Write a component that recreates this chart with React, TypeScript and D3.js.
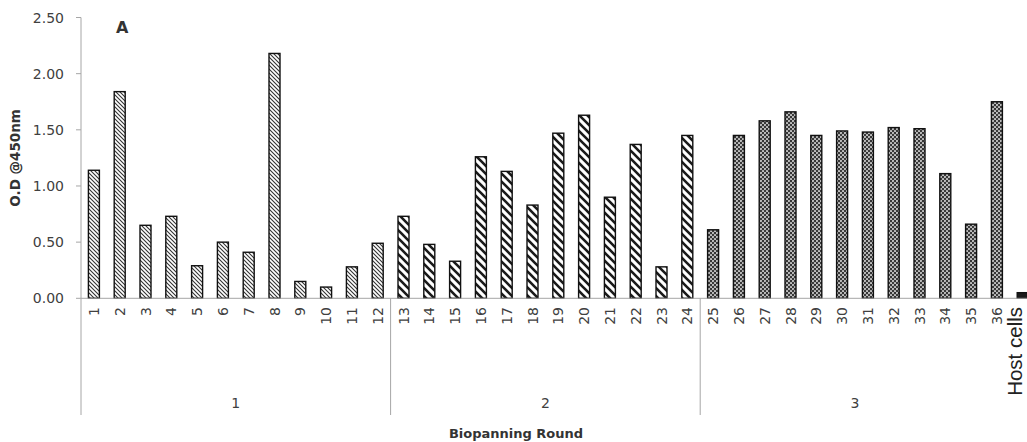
import React, { useEffect } from "react";
import * as d3 from "d3";

// Clone labels and optical density readings per biopanning round
const cloneLabels: string[] = Array.from({ length: 36 }, (_, i) => String(i + 1));
const round1Values: number[] = [1.14, 1.84, 0.65, 0.73, 0.29, 0.5, 0.41, 2.18, 0.15, 0.1, 0.28, 0.49];
const round2Values: number[] = [0.73, 0.48, 0.33, 1.26, 1.13, 0.83, 1.47, 1.63, 0.9, 1.37, 0.28, 1.45];
const round3Values: number[] = [0.61, 1.45, 1.58, 1.66, 1.45, 1.49, 1.48, 1.52, 1.51, 1.11, 0.66, 1.75];
const hostCellsLabel = "Host cells";
const hostCellsValue = 0.05;
const roundLabels: string[] = ["1", "2", "3"];
const yTicks: number[] = [0, 0.5, 1, 1.5, 2, 2.5];

const W = 1027;
const H = 442;
const left = 81;
const step = 25.8;
const top = 17.5;
const base = 298.3;

type Bar = { label: string; value: number; round: number };

const bars: Bar[] = [
  ...round1Values.map((v, i) => ({ label: cloneLabels[i], value: v, round: 0 })),
  ...round2Values.map((v, i) => ({ label: cloneLabels[12 + i], value: v, round: 1 })),
  ...round3Values.map((v, i) => ({ label: cloneLabels[24 + i], value: v, round: 2 })),
  { label: hostCellsLabel, value: hostCellsValue, round: 3 },
];

const fills = ["url(#hatchFine)", "url(#hatchWide)", "url(#dotGrid)", "#1a1a1a"];

export default function App() {
  useEffect(() => {
    document.body.style.margin = "0";
  }, []);

  const x = d3
    .scaleBand<string>()
    .domain(bars.map((b) => b.label))
    .range([left, left + bars.length * step])
    .paddingInner(0.574)
    .paddingOuter(0.287);
  const y = d3.scaleLinear().domain([0, 2.5]).range([base, top]);

  const axisColor = "#a6a6a6";
  const textColor = "#404040";
  const tickFont = "DejaVu Sans, sans-serif";

  // Round boundaries: left edge of the first clone in each round, plus the end of round 2
  const boundaries = [0, 12, 24, 36].map((i) => left + i * step);
  const lineBottom = 415;

  return (
    <svg width={W} height={H} style={{ display: "block", background: "#fff" }}>
      <defs>
        <pattern id="hatchFine" patternUnits="userSpaceOnUse" width="4" height="4">
          <rect width="4" height="4" fill="#fff" />
          <path d="M-1,-1 L5,5 M-1,3 L1,5 M3,-1 L5,1" stroke="#333" strokeWidth="1.1" />
        </pattern>
        <pattern id="hatchWide" patternUnits="userSpaceOnUse" width="8" height="8">
          <rect width="8" height="8" fill="#fff" />
          <path d="M-2,-2 L10,10 M-2,6 L2,10 M6,-2 L10,2" stroke="#1a1a1a" strokeWidth="2.6" />
        </pattern>
        <pattern id="dotGrid" patternUnits="userSpaceOnUse" width="4" height="4">
          <rect width="4" height="4" fill="#3a3a3a" />
          <circle cx="1" cy="1" r="1.05" fill="#c8c8c8" />
          <circle cx="3" cy="3" r="1.05" fill="#c8c8c8" />
          <rect x="2.6" y="0.6" width="0.8" height="0.8" fill="#1a1a1a" />
        </pattern>
      </defs>

      {/* y axis */}
      <line x1={left} x2={left} y1={top} y2={base} stroke={axisColor} strokeWidth={1} />
      {yTicks.map((t) => (
        <g key={t}>
          <line x1={left - 5} x2={left} y1={y(t)} y2={y(t)} stroke={axisColor} strokeWidth={1} />
          <text
            x={64}
            y={y(t)}
            dy="0.36em"
            textAnchor="end"
            fontFamily={tickFont}
            fontSize={14}
            fill={textColor}
          >
            {t.toFixed(2)}
          </text>
        </g>
      ))}
      <text
        transform={`translate(20,${(top + base) / 2}) rotate(-90)`}
        textAnchor="middle"
        fontFamily={tickFont}
        fontWeight="bold"
        fontSize={13.5}
        fill="#333"
      >
        O.D @450nm
      </text>

      {/* bars */}
      {bars.map((b) => (
        <rect
          key={b.label}
          x={x(b.label)!}
          y={y(b.value)}
          width={x.bandwidth()}
          height={base - y(b.value)}
          fill={fills[b.round]}
          stroke="#111"
          strokeWidth={1.4}
        />
      ))}

      {/* x axis and round separators */}
      <line x1={left} x2={W} y1={base} y2={base} stroke={axisColor} strokeWidth={1} />
      {boundaries.slice(0, 3).map((bx) => (
        <line key={bx} x1={bx} x2={bx} y1={base} y2={lineBottom} stroke={axisColor} strokeWidth={1} />
      ))}

      {/* clone tick labels */}
      {bars.slice(0, 36).map((b) => {
        const cx = x(b.label)! + x.bandwidth() / 2;
        return (
          <text
            key={b.label}
            transform={`translate(${cx},307) rotate(-90)`}
            dy="0.36em"
            textAnchor="end"
            fontFamily={tickFont}
            fontSize={14}
            fill={textColor}
          >
            {b.label}
          </text>
        );
      })}
      <text
        transform={`translate(${x(hostCellsLabel)! + x.bandwidth() / 2 - 0.5},307) rotate(-90)`}
        textAnchor="end"
        fontFamily="Liberation Sans, Arial, sans-serif"
        fontSize={20.5}
        fill="#222"
      >
        {hostCellsLabel}
      </text>

      {/* round labels */}
      {roundLabels.map((r, i) => (
        <text
          key={r}
          x={(boundaries[i] + boundaries[i + 1]) / 2}
          y={403}
          dy="0.36em"
          textAnchor="middle"
          fontFamily={tickFont}
          fontSize={14}
          fill={textColor}
        >
          {r}
        </text>
      ))}

      <text
        x={516}
        y={438}
        textAnchor="middle"
        fontFamily={tickFont}
        fontWeight="bold"
        fontSize={13}
        fill="#333"
      >
        Biopanning Round
      </text>

      <text x={116} y={33} fontFamily={tickFont} fontWeight="bold" fontSize={16} fill="#333">
        A
      </text>
    </svg>
  );
}
